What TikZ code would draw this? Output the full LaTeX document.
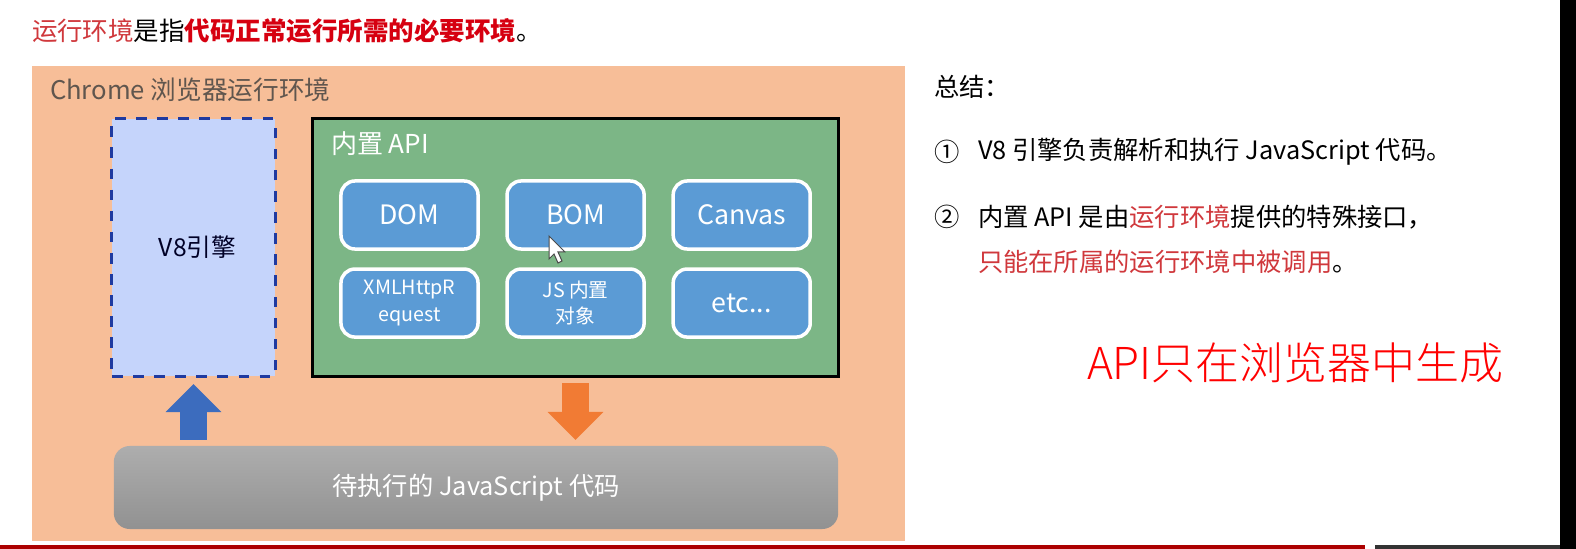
\documentclass[tikz,border=0pt]{standalone}
\usepackage{fontspec}
\setmainfont{Noto Sans CJK SC}
\newfontfamily\thincjk{Noto Sans CJK SC Light}
\usepackage{xcolor}
\usetikzlibrary{arrows.meta,positioning}
\definecolor{panelorange}{RGB}{247,190,152}
\definecolor{engineblue}{RGB}{197,212,251}
\definecolor{dashblue}{RGB}{31,58,160}
\definecolor{apigreen}{RGB}{124,182,134}
\definecolor{itemblue}{RGB}{91,155,213}
\definecolor{softred}{RGB}{208,56,60}
\definecolor{strongred}{RGB}{214,0,16}
\definecolor{softbrown}{RGB}{96,86,78}
\definecolor{barred}{RGB}{172,0,0}
\definecolor{arrowblue}{RGB}{60,108,190}
\definecolor{arroworange}{RGB}{241,123,52}

\begin{document}
\begin{tikzpicture}[
    x=0.01cm, y=-0.01cm,
    node distance=0.20cm and 0.29cm,
    every node/.style={outer sep=0pt, inner sep=0pt},
    txt/.style={anchor=west, align=left, font=\fontsize{7.2}{9}\selectfont},
    item/.style={draw=white, fill=itemblue, line width=0.035cm, rounded corners=0.14cm, minimum width=1.37cm, minimum height=0.68cm, align=center, text=white, font=\fontsize{7.6}{9}\selectfont},
    smallitem/.style={item, font=\fontsize{5.6}{7.6}\selectfont},
    blockarr/.style={line width=0.27cm, -{Triangle[length=0.28cm, width=0.54cm]}}
]
\useasboundingbox (0,0) rectangle (1576,549);
\fill[white] (0,0) rectangle (1576,549);
\fill[black] (1560,0) rectangle (1576,549);
\fill[barred] (0,545) rectangle (1365,549);
\fill[black!80] (1375,545) rectangle (1560,549);

\node[txt, font=\fontsize{7.25}{9}\selectfont] (title) at (32,31) {\textcolor{softred}{运行环境}是指\textcolor{strongred}{\bfseries 代码正常运行所需的必要环境}。};

\node[fill=panelorange, minimum width=8.73cm, minimum height=4.75cm] (panel) at (468.5,303.5) {};
\node[txt, text=softbrown, font=\fontsize{7.3}{9}\selectfont] (paneltitle) at (50,90) {Chrome 浏览器运行环境};

\node[draw=dashblue, fill=engineblue, dashed, line width=0.03cm, minimum width=1.63cm, minimum height=2.57cm, font=\fontsize{7}{9}\selectfont, text=black!85!blue] (engine) at (193.5,247.5) {\hspace*{0.08cm}V8引擎};
\node[draw=black, fill=apigreen, line width=0.03cm, minimum width=5.25cm, minimum height=2.57cm] (api) at (575.5,247.5) {};
\node[txt, text=white, font=\fontsize{7.4}{9}\selectfont] (apititle) at (331,144) {内置 API};

\node[item] (dom) at (409.5,215) {DOM};
\node[item, right=of dom] (bom) {BOM};
\node[item, right=of bom] (canvas) {Canvas};
\node[smallitem, below=of dom] (xhr) {XMLHttpR\\equest};
\node[smallitem, below=of bom] (jsobj) {JS 内置\\对象};
\node[item, below=of canvas] (etc) {etc...};

\node[top color=black!32, bottom color=black!43, rounded corners=0.16cm, minimum width=7.24cm, minimum height=0.83cm, text=white, font=\fontsize{7.2}{9}\selectfont] (code) at (476,487.5) {待执行的 JavaScript 代码};

\draw[blockarr, arrowblue, shorten >=0.08cm, shorten <=0.06cm] (code.north -| engine.south) -- (engine.south);
\draw[blockarr, arroworange, shorten >=0.06cm, shorten <=0.07cm] (api.south) -- (code.north -| api.south);

% mouse pointer
\draw[fill=white, draw=black!70, line width=0.01cm] (549,236) -- (549,259) -- (554,254) -- (558,263) -- (562,261) -- (558,252) -- (565,252) -- cycle;

\node[txt] (summary) at (934,87) {总结：};
\node[txt] (one) at (934,152) {①};
\node[txt] (onetext) at (978,152) {V8 引擎负责解析和执行 JavaScript 代码。};
\node[txt] (two) at (934,217) {②};
\node[txt] (twotext) at (978,217) {内置 API 是由\textcolor{softred}{运行环境}提供的特殊接口，};
\node[txt] (twomore) at (978,262) {\textcolor{softred}{只能在所属的运行环境中被调用}。};
\node[txt, text=red, font=\fontsize{12.5}{14}\selectfont\thincjk] (note) at (1087,363) {API只在浏览器中生成};
\end{tikzpicture}
\end{document}
